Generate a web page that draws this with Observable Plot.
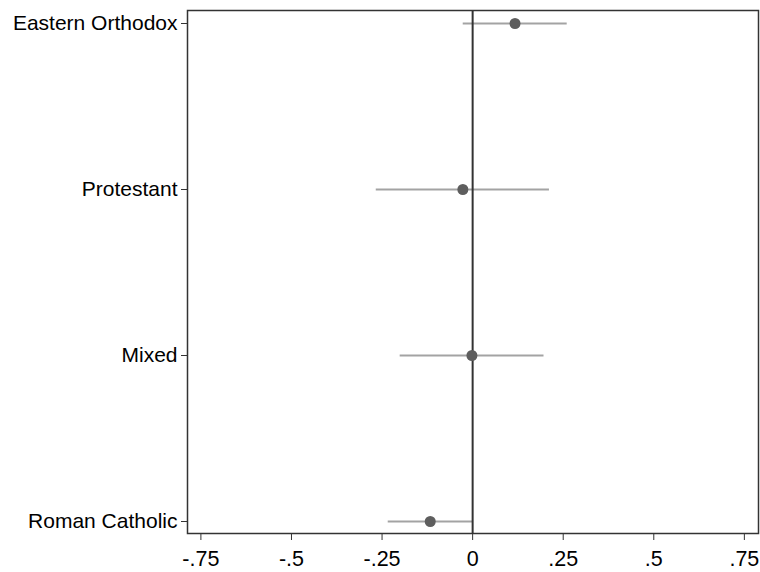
<!DOCTYPE html>
<html>
<head>
<meta charset="utf-8">
<script src="https://cdn.jsdelivr.net/npm/d3@7"></script>
<script src="https://cdn.jsdelivr.net/npm/@observablehq/plot@0.6"></script>
<style>
  html, body { margin: 0; padding: 0; background: #fff; }
  #chart svg { display: block; }
</style>
</head>
<body>
<div id="chart"></div>
<script>
const categories = ["Eastern Orthodox", "Protestant", "Mixed", "Roman Catholic"];
const estimates = [0.117, -0.027, -0.002, -0.117];
const lower = [-0.026, -0.266, -0.200, -0.233];
const upper = [0.261, 0.212, 0.197, 0.000];
const xTicks = [-0.75, -0.5, -0.25, 0, 0.25, 0.5, 0.75];

const data = categories.map((c, i) => ({cat: c, est: estimates[i], lo: lower[i], hi: upper[i]}));

const fmt = d => d === 0 ? "0" : String(d).replace("0.", ".");

const chart = Plot.plot({
  width: 760,
  height: 572,
  marginLeft: 187,
  marginRight: 2,
  marginTop: 10,
  marginBottom: 39,
  style: {fontFamily: "'Liberation Sans', Arial, Helvetica, sans-serif", fontSize: "21px", color: "#000", background: "#fff"},
  x: {domain: [-0.787, 0.789]},
  y: {type: "point", domain: categories, padding: 0.075},
  marks: [
    Plot.ruleY(data, {y: "cat", x1: "lo", x2: "hi", stroke: "#a3a3a3", strokeWidth: 2}),
    Plot.ruleX([0], {stroke: "#333", strokeWidth: 2}),
    Plot.dot(data, {x: "est", y: "cat", r: 5.5, fill: "#5e5e5e", stroke: "none"}),
    Plot.frame({stroke: "#333", strokeWidth: 1.5}),
    Plot.axisX({ticks: xTicks, tickFormat: fmt, tickSize: 7, tickPadding: 10, label: null, fontSize: 21.5, stroke: "#333"}),
    Plot.axisY({tickSize: 6, tickPadding: 4, label: null, fontSize: 21, stroke: "#333"})
  ]
});
document.getElementById("chart").appendChild(chart);
</script>
</body>
</html>
